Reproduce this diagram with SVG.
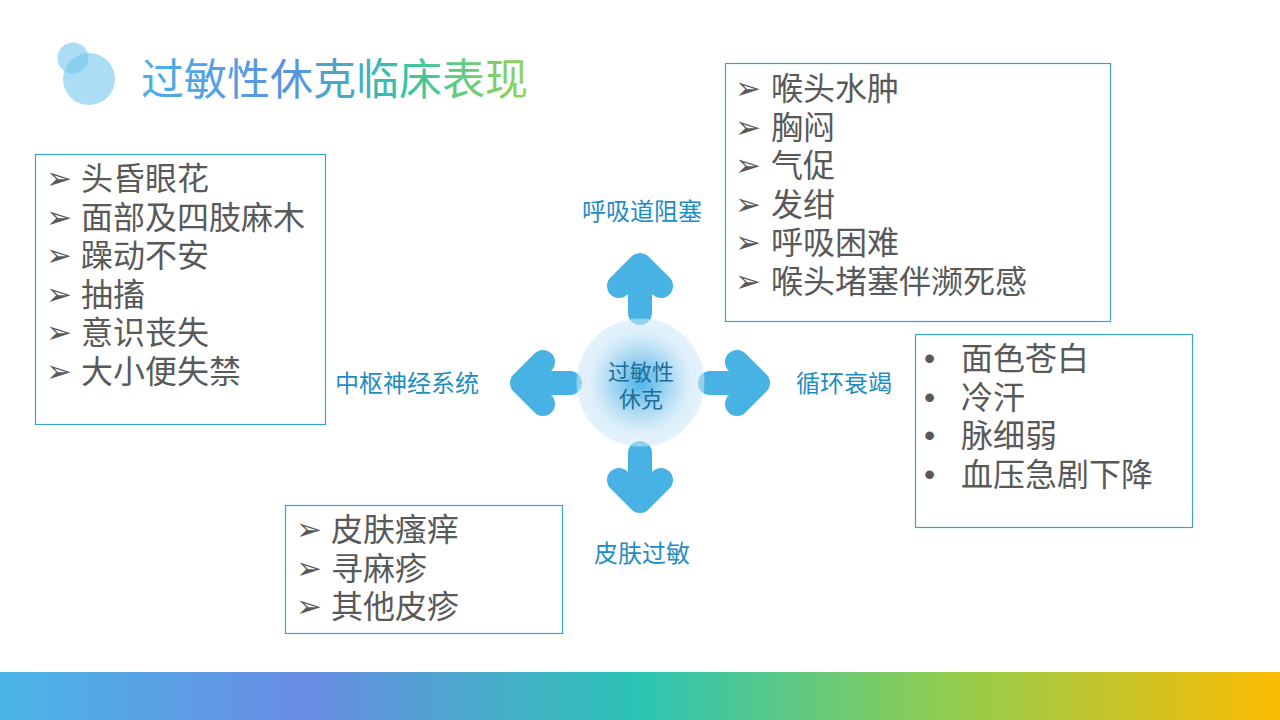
<svg xmlns="http://www.w3.org/2000/svg" width="1280" height="720" viewBox="0 0 1280 720">
<defs>
<linearGradient id="barGrad" x1="0" y1="0" x2="1280" y2="0" gradientUnits="userSpaceOnUse">
<stop offset="0" stop-color="#4AB5E6"/>
<stop offset="0.24" stop-color="#698DE4"/>
<stop offset="0.5" stop-color="#2CC4B5"/>
<stop offset="0.75" stop-color="#94CD4C"/>
<stop offset="1" stop-color="#FCBB00"/>
</linearGradient>
<linearGradient id="titleGrad" x1="142" y1="0" x2="522" y2="0" gradientUnits="userSpaceOnUse">
<stop offset="0" stop-color="#4DB0E6"/>
<stop offset="0.38" stop-color="#5A92E0"/>
<stop offset="0.68" stop-color="#36C2A8"/>
<stop offset="1" stop-color="#8ED35A"/>
</linearGradient>
<radialGradient id="hubGrad" cx="0.5" cy="0.5" r="0.5">
<stop offset="0" stop-color="#4DB4E8" stop-opacity="1"/>
<stop offset="0.45" stop-color="#9ED4F2" stop-opacity="0.9"/>
<stop offset="0.8" stop-color="#CDE7F7" stop-opacity="0.65"/>
<stop offset="1" stop-color="#CDE7F7" stop-opacity="0.55"/>
</radialGradient>
<g id="arrowUp">
<path d="M0,-70 L0,-116 M-21,-97 L0,-118 L21,-97"/>
</g>
</defs>
<style>
.box{fill:#FFFFFF;stroke:#3AA3C9;stroke-width:1.2}
.item{font-family:"Liberation Sans","Noto Sans CJK SC",sans-serif;font-size:32px;fill:#595959}
.mark{font-family:"DejaVu Sans",sans-serif;font-size:31px;fill:#595959}
.dot{font-family:"Liberation Sans",sans-serif;font-size:32px;fill:#595959}
.lab{font-family:"Liberation Sans","Noto Sans CJK SC",sans-serif;font-size:24px;fill:#1F8DC2;text-anchor:middle}
.hubtxt{font-family:"Liberation Sans","Noto Sans CJK SC",sans-serif;font-size:22px;fill:#1E6E98;text-anchor:middle}
.arr{fill:none;stroke:#48B2E4;stroke-width:24;stroke-linecap:round;stroke-linejoin:round}
</style>
<rect x="0" y="0" width="1280" height="720" fill="#FFFFFF"/>

<g id="title">
<circle cx="89" cy="79" r="26" fill="#73C6ED" fill-opacity="0.6"/>
<circle cx="73" cy="58" r="15.5" fill="#73C6ED" fill-opacity="0.6"/>
<text x="141" y="95" font-family="Liberation Sans, Noto Sans CJK SC, sans-serif" font-size="43" fill="url(#titleGrad)">过敏性休克临床表现</text>
</g>

<g id="connectors" class="arr">
<use href="#arrowUp" transform="translate(640,383)"/>
<use href="#arrowUp" transform="translate(640,383) rotate(90)"/>
<use href="#arrowUp" transform="translate(640,383) rotate(180)"/>
<use href="#arrowUp" transform="translate(640,383) rotate(270)"/>
</g>

<g id="hub">
<circle cx="640.5" cy="382.5" r="64" fill="url(#hubGrad)"/>
<text class="hubtxt" x="641" y="380">过敏性</text>
<text class="hubtxt" x="641" y="407">休克</text>
</g>

<g id="label-respiratory"><text class="lab" x="642" y="220">呼吸道阻塞</text></g>
<g id="label-cns"><text class="lab" x="407" y="392">中枢神经系统</text></g>
<g id="label-circulation"><text class="lab" x="844" y="392">循环衰竭</text></g>
<g id="label-skin"><text class="lab" x="642" y="562">皮肤过敏</text></g>

<g id="box-cns">
<rect class="box" x="35.5" y="154.5" width="290" height="270"/>
<text class="mark" x="46" y="189">➢</text><text class="item" x="81" y="190">头昏眼花</text>
<text class="mark" x="46" y="227.5">➢</text><text class="item" x="81" y="228.5">面部及四肢麻木</text>
<text class="mark" x="46" y="266">➢</text><text class="item" x="81" y="267">躁动不安</text>
<text class="mark" x="46" y="304.5">➢</text><text class="item" x="81" y="305.5">抽搐</text>
<text class="mark" x="46" y="343">➢</text><text class="item" x="81" y="344">意识丧失</text>
<text class="mark" x="46" y="381.5">➢</text><text class="item" x="81" y="382.5">大小便失禁</text>
</g>

<g id="box-respiratory">
<rect class="box" x="725.5" y="63.5" width="385" height="258"/>
<text class="mark" x="735" y="99">➢</text><text class="item" x="771" y="100">喉头水肿</text>
<text class="mark" x="735" y="137.5">➢</text><text class="item" x="771" y="138.5">胸闷</text>
<text class="mark" x="735" y="176">➢</text><text class="item" x="771" y="177">气促</text>
<text class="mark" x="735" y="214.5">➢</text><text class="item" x="771" y="215.5">发绀</text>
<text class="mark" x="735" y="253">➢</text><text class="item" x="771" y="254">呼吸困难</text>
<text class="mark" x="735" y="291.5">➢</text><text class="item" x="771" y="292.5">喉头堵塞伴濒死感</text>
</g>

<g id="box-circulation">
<rect class="box" x="915.5" y="334.5" width="277" height="193"/>
<text class="dot" x="924" y="369">•</text><text class="item" x="961" y="370">面色苍白</text>
<text class="dot" x="924" y="407.5">•</text><text class="item" x="961" y="408.5">冷汗</text>
<text class="dot" x="924" y="446">•</text><text class="item" x="961" y="447">脉细弱</text>
<text class="dot" x="924" y="484.5">•</text><text class="item" x="961" y="485.5">血压急剧下降</text>
</g>

<g id="box-skin">
<rect class="box" x="285.5" y="505.5" width="277" height="128"/>
<text class="mark" x="296" y="540">➢</text><text class="item" x="331" y="541">皮肤瘙痒</text>
<text class="mark" x="296" y="578.5">➢</text><text class="item" x="331" y="579.5">寻麻疹</text>
<text class="mark" x="296" y="617">➢</text><text class="item" x="331" y="618">其他皮疹</text>
</g>

<rect id="footer-bar" x="0" y="672" width="1280" height="48" fill="url(#barGrad)"/>
</svg>
